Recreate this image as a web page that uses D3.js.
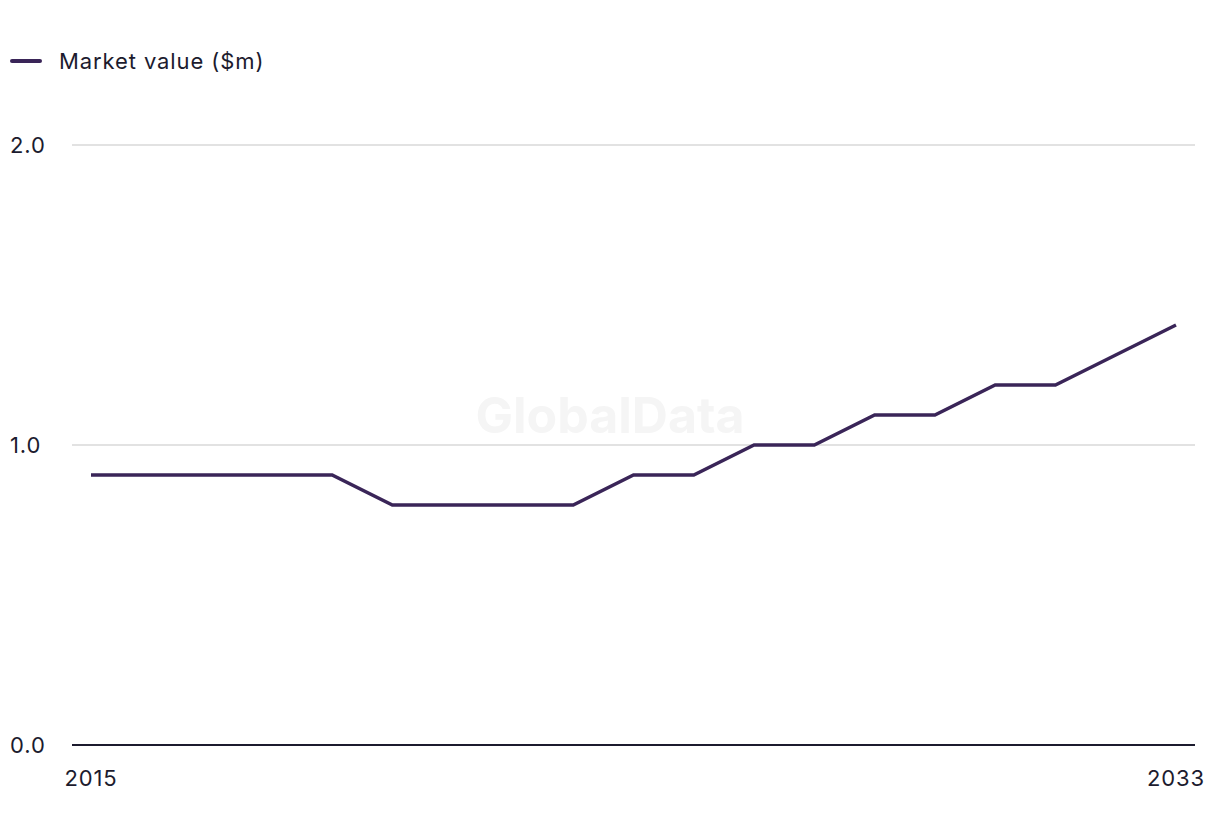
<!DOCTYPE html>
<html><head><meta charset="utf-8">
<script src="https://cdn.jsdelivr.net/npm/d3@7"></script>
<style>
html,body{margin:0;padding:0;background:#fff;}
svg text{font-family:"Inter","Noto Sans",sans-serif;}
</style></head>
<body>
<svg id="chart" width="1220" height="836"></svg>
<script>
const years = [2015,2016,2017,2018,2019,2020,2021,2022,2023,2024,2025,2026,2027,2028,2029,2030,2031,2032,2033];
const marketValue = [0.9,0.9,0.9,0.9,0.9,0.8,0.8,0.8,0.8,0.9,0.9,1.0,1.0,1.1,1.1,1.2,1.2,1.3,1.4];
const yTicks = [0,1,2];
const xTickLabels = [2015,2033];
const seriesName = "Market value ($m)";

const svg = d3.select("#chart");
const lineColor = "#3a2558";
const textColor = "#1c1b2e";
const ls = "0.9px";

const x = d3.scaleLinear().domain([2015,2033]).range([91,1176]);
const y = d3.scaleLinear().domain([0,2]).range([745,145]);

// gridlines
svg.append("g").selectAll("line").data(yTicks.filter(d=>d>0)).join("line")
  .attr("x1",72).attr("x2",1195)
  .attr("y1",d=>y(d)).attr("y2",d=>y(d))
  .attr("stroke","#d9d9d9").attr("stroke-width",1.5);

// watermark
svg.append("text").attr("x",610).attr("y",433).attr("text-anchor","middle")
  .attr("font-size",50).attr("font-weight",700).attr("fill","#f5f5f5")
  .text("GlobalData");

// y labels
svg.append("g").selectAll("text").data(yTicks).join("text")
  .attr("x",10).attr("y",d=>y(d)+8)
  .attr("font-size",22).attr("letter-spacing",ls).attr("fill",textColor)
  .text(d=>d3.format(".1f")(d));

// baseline
svg.append("line").attr("x1",72).attr("x2",1195).attr("y1",y(0)).attr("y2",y(0))
  .attr("stroke",textColor).attr("stroke-width",2);

// x labels
svg.append("g").selectAll("text").data(xTickLabels).join("text")
  .attr("x",d=>x(d)).attr("y",786).attr("text-anchor","middle")
  .attr("font-size",22).attr("letter-spacing",ls).attr("fill",textColor)
  .text(d=>d);

// line
const line = d3.line().x((d,i)=>x(years[i])).y(d=>y(d));
svg.append("path").datum(marketValue).attr("d",line)
  .attr("fill","none").attr("stroke",lineColor).attr("stroke-width",3.5);

// legend
svg.append("line").attr("x1",12).attr("x2",40).attr("y1",61).attr("y2",61)
  .attr("stroke",lineColor).attr("stroke-width",4).attr("stroke-linecap","round");
svg.append("text").attr("x",59).attr("y",69).attr("font-size",22).attr("letter-spacing",ls).attr("fill",textColor)
  .text(seriesName);
</script>
</body></html>
